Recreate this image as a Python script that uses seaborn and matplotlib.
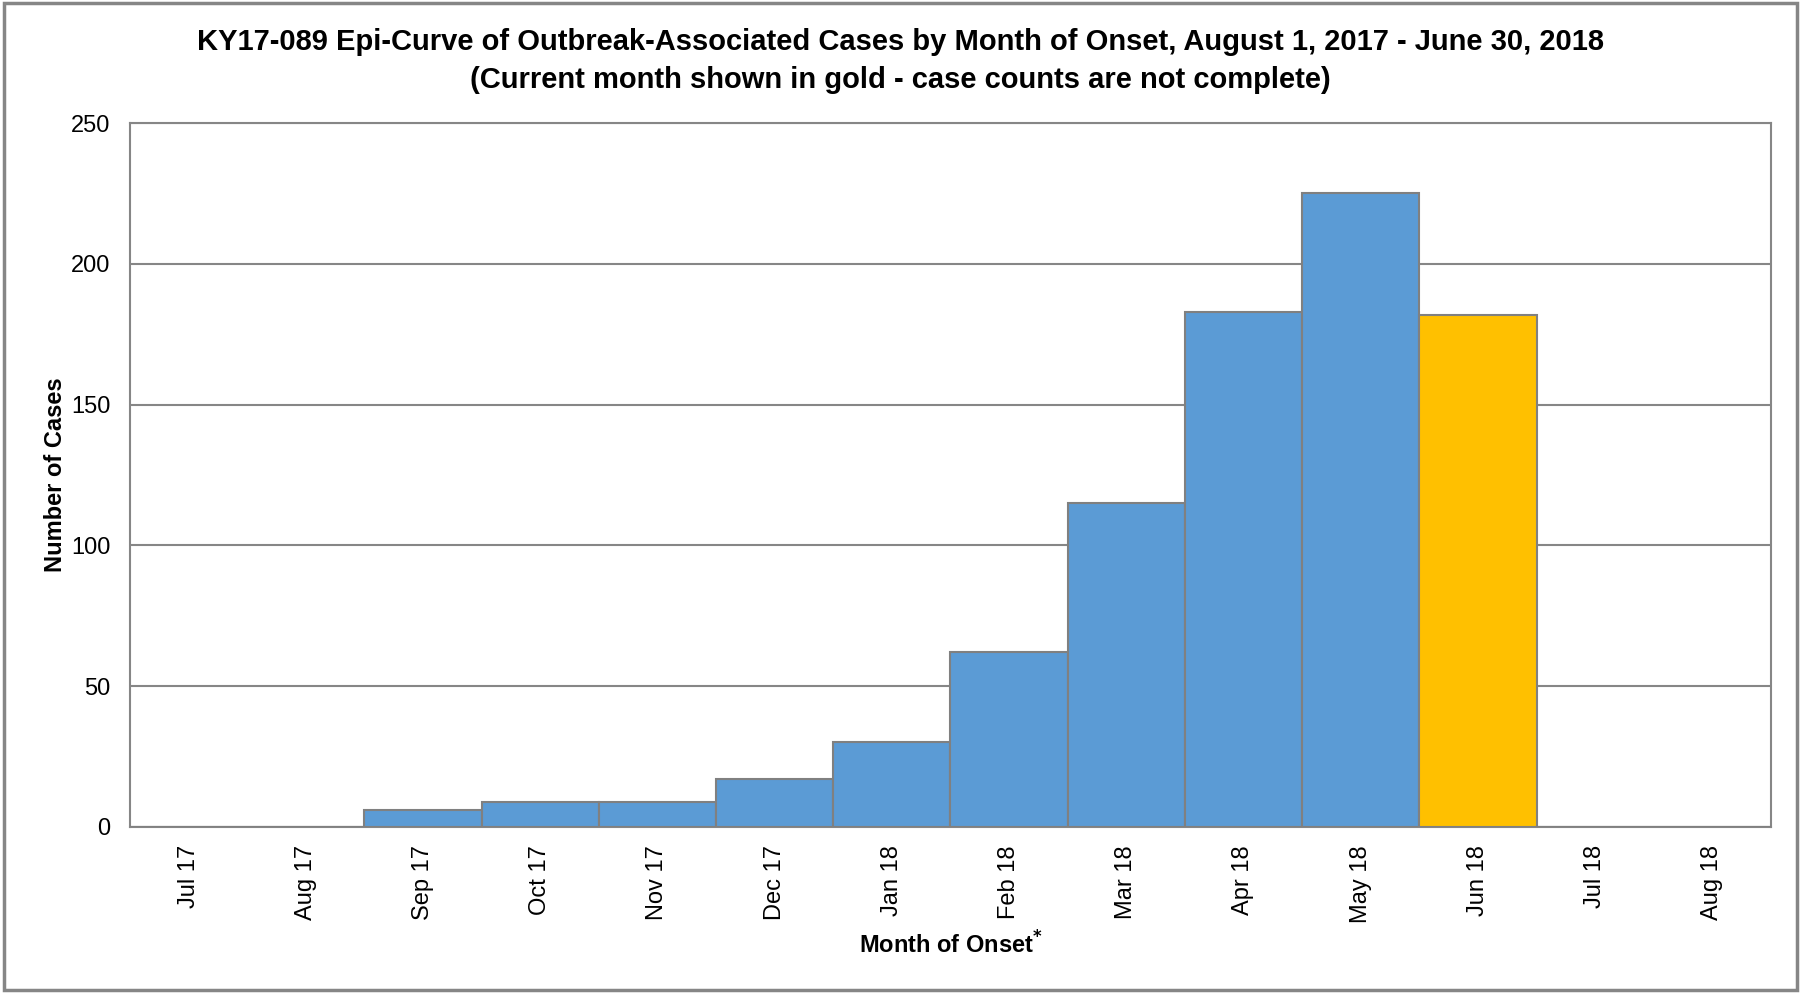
import pandas as pd
import matplotlib.pyplot as plt
import seaborn as sns
from matplotlib.patches import Rectangle

months = ['Jul 17', 'Aug 17', 'Sep 17', 'Oct 17', 'Nov 17', 'Dec 17', 'Jan 18',
          'Feb 18', 'Mar 18', 'Apr 18', 'May 18', 'Jun 18', 'Jul 18', 'Aug 18']
cases = [0, 0, 6, 9, 9, 17, 30, 62, 115, 183, 225, 182, 0, 0]
status = ['complete'] * 11 + ['current'] + ['complete'] * 2
yticks = [0, 50, 100, 150, 200, 250]

data = pd.DataFrame({'Month': months, 'Cases': cases, 'Status': status})

sns.set_style('white')
plt.rcParams['font.family'] = ['Liberation Sans', 'DejaVu Sans']
plt.rcParams['text.color'] = 'black'
plt.rcParams['xtick.color'] = 'black'
plt.rcParams['ytick.color'] = 'black'
plt.rcParams['axes.labelcolor'] = 'black'

fig = plt.figure(figsize=(18.01, 9.93), dpi=100)
ax = fig.add_axes([0.0722, 0.1672, 0.9111, 0.7089])

sns.barplot(data=data, x='Month', y='Cases', hue='Status',
            palette={'complete': '#5B9BD5', 'current': '#FFC000'},
            saturation=1, width=1.0, edgecolor='#808080', linewidth=1.5,
            legend=False, ax=ax, zorder=3)

ax.set_xlim(-0.5, len(months) - 0.5)
ax.set_ylim(0, 250)
ax.set_yticks(yticks)
ax.yaxis.grid(True, color='#868686', linewidth=1.5, zorder=0)
ax.set_axisbelow(True)

ax.set_xticks(range(len(months)))
ax.set_xticklabels(months, rotation=90, fontsize=17)
ax.set_xticks([i - 0.5 for i in range(len(months) + 1)], minor=True)
ax.tick_params(axis='x', which='major', length=0, pad=13)
ax.tick_params(axis='x', which='minor', length=8, width=1.5, color='#868686', direction='out')
ax.tick_params(axis='y', labelsize=17, length=0, pad=14)

for s in ax.spines.values():
    s.set_color('#868686')
    s.set_linewidth(1.5)

ax.set_ylabel('Number of Cases', fontsize=17, fontweight='bold', labelpad=3)
ax.set_xlabel(r'Month of Onset$^{\bf{*}}$', fontsize=17, fontweight='bold', labelpad=6)

fig.suptitle('KY17-089 Epi-Curve of Outbreak-Associated Cases by Month of Onset, August 1, 2017 - June 30, 2018\n'
             '(Current month shown in gold - case counts are not complete)',
             fontsize=21, fontweight='bold', y=0.972, linespacing=1.45)

fig.patches.append(Rectangle((0.002, 0.003), 0.996, 0.994, transform=fig.transFigure,
                             fill=False, edgecolor='#868686', linewidth=2.5))

fig.savefig('out.png', dpi=100)
